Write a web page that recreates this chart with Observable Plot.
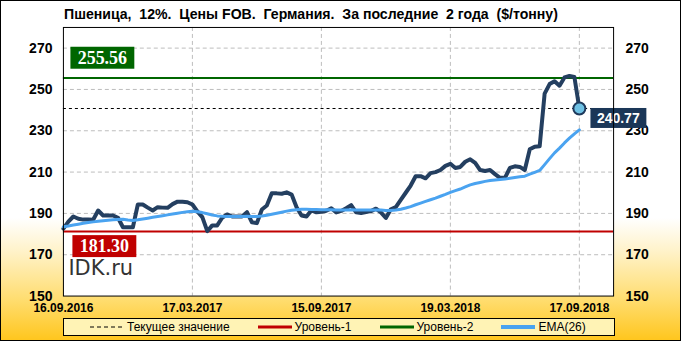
<!DOCTYPE html>
<html><head><meta charset="utf-8">
<script src="https://cdn.jsdelivr.net/npm/d3@7"></script>
<script src="https://cdn.jsdelivr.net/npm/@observablehq/plot@0.6"></script>
<style>
body{margin:0;}
#wrap{position:relative;width:681px;height:341px;box-sizing:border-box;border:1px solid #000;
 background:linear-gradient(to bottom,#fff 0%,#fff 64%,#FFF2C8 74%,#FFDD70 88%,#FFC61E 100%);
 font-family:"Liberation Sans",Arial,sans-serif;overflow:hidden;}
#title{position:absolute;left:63px;top:5px;font-weight:bold;font-size:14.1px;white-space:pre;color:#000;}
#chart{position:absolute;left:-1px;top:-1px;}
#legend{position:absolute;left:62px;top:317px;width:552px;height:18px;border:1px solid #000;background:#FFF3B5;
 box-sizing:border-box;display:flex;align-items:center;padding-left:26px;gap:28px;font-size:12px;}
.item{display:flex;align-items:center;gap:3px;}
</style></head>
<body>
<div id="wrap">
  <div id="title"></div>
  <div id="chart"></div>
  <div id="legend"></div>
</div>
<script>
const titleText = "Пшеница,  12%.  Цены FOB.  Германия.  За последние  2 года  ($/тонну)";
const dateLabels = ["16.09.2016","17.03.2017","15.09.2017","19.03.2018","17.09.2018"];
const dateTickIndex = [0,26,52,78,104];
const yTicks = [150,170,190,210,230,250,270];
const level1 = 181.30;
const level2 = 255.56;
const currentValue = 240.77;
const legendLabels = ["Текущее значение","Уровень-1","Уровень-2","EMA(26)"];
const legendColors = ["#000000","#C00000","#006600","#4AA3F0"];

// weekly prices ($/t)
const price = [
 182.6,186.0,188.5,187.4,187.0,187.0,186.9,191.4,189.0,189.0,
 189.0,187.9,183.3,183.3,183.3,194.3,194.3,192.8,191.4,193.0,
 192.8,192.7,194.5,195.7,195.6,195.4,194.3,191.0,188.2,181.4,
 184.2,184.2,187.9,189.5,188.5,188.5,188.5,190.6,185.7,185.3,
 191.9,193.8,199.8,199.7,199.5,200.2,199.1,193.0,189.0,188.5,
 191.5,190.5,190.8,191.3,192.5,190.5,191.2,192.5,194.0,190.5,
 190.2,190.7,191.1,192.3,190.5,187.8,192.0,193.0,196.5,200.0,
 203.5,208.0,208.0,207.0,209.5,210.0,211.0,213.0,214.0,212.0,
 212.5,215.0,216.2,214.5,211.0,210.5,211.0,209.0,207.2,207.2,
 212.0,212.8,212.5,211.0,221.0,222.3,222.5,248.0,252.6,254.0,
 251.8,255.8,256.5,256.0,240.77
];
// EMA(26)
const ema = [
 183.5,183.9,184.4,184.8,185.2,185.6,185.9,186.2,186.5,186.7,
 186.9,187.1,187.2,186.8,186.6,186.9,187.3,187.7,188.1,188.5,
 188.9,189.3,189.7,190.1,190.5,190.8,191.0,190.8,190.4,189.8,
 189.2,188.8,188.6,188.5,188.5,188.5,188.5,188.6,188.5,188.5,
 188.7,189.1,189.6,190.1,190.6,191.1,191.5,191.8,192.0,192.0,
 191.9,191.9,191.8,191.8,191.8,191.7,191.7,191.7,191.8,191.7,
 191.7,191.6,191.6,191.6,191.6,191.4,191.4,191.6,192.0,192.6,
 193.3,194.2,195.0,195.8,196.6,197.4,198.3,199.2,200.2,201.0,
 201.8,202.8,203.8,204.5,205.0,205.5,205.9,206.2,206.4,206.6,
 207.0,207.4,207.7,208.0,209.0,209.9,210.8,213.6,216.5,219.3,
 221.6,224.1,226.4,228.5,230.4
];

const data = price.map((v,i)=>({i, price:v, ema:ema[i]}));
const last = data[data.length-1];

document.getElementById("title").textContent = titleText;

const chart = Plot.plot({
  width:681, height:341,
  marginLeft:63, marginRight:67, marginTop:27, marginBottom:45,
  style:{background:"transparent", fontFamily:"Liberation Sans, Arial, sans-serif", overflow:"visible", color:"#000"},
  x:{domain:[0,110.9], label:null},
  y:{domain:[150,280], label:null},
  marks:[
    Plot.frame({fill:"white"}),
    Plot.ruleY(yTicks.slice(1), {stroke:"#bdbdbd", strokeDasharray:"4,3"}),
    Plot.ruleX(dateTickIndex.slice(1), {stroke:"#bdbdbd", strokeDasharray:"4,3"}),
    Plot.axisY(yTicks, {anchor:"left", tickSize:0, tickPadding:11, fontSize:14, fontWeight:"bold", label:null}),
    Plot.axisY(yTicks, {anchor:"right", tickSize:0, tickPadding:12, fontSize:14, fontWeight:"bold", label:null}),
    Plot.axisX(dateTickIndex, {anchor:"bottom", tickSize:0, tickPadding:7, fontSize:12, fontWeight:"bold", label:null,
      tickFormat:d=>dateLabels[dateTickIndex.indexOf(d)]}),
    Plot.ruleY([level1], {stroke:"#C00000", strokeWidth:2}),
    Plot.ruleY([level2], {stroke:"#006600", strokeWidth:2}),
    Plot.ruleY([currentValue], {stroke:"#000", strokeDasharray:"3,3", strokeWidth:1}),
    Plot.line(data, {x:"i", y:"price", stroke:"#243F60", strokeWidth:4, strokeLinejoin:"round"}),
    Plot.line(data, {x:"i", y:"ema", stroke:"#4AA3F0", strokeWidth:3}),
    Plot.dot([last], {x:"i", y:"price", r:6, fill:"#6EC1E4", stroke:"#1F3A5C", strokeWidth:2}),
    Plot.text([level2], {y:d=>d, frameAnchor:"left", textAnchor:"middle", dx:39, dy:-20, text:d=>d.toFixed(2), fill:"white",
      fontSize:18, fontWeight:"bold", fontFamily:"Liberation Serif, serif", className:"box-green"}),
    Plot.text([level1], {y:d=>d, frameAnchor:"left", textAnchor:"middle", dx:41, dy:15, text:d=>d.toFixed(2), fill:"white",
      fontSize:18, fontWeight:"bold", fontFamily:"Liberation Serif, serif", className:"box-red"}),
    Plot.text([last], {x:"i", y:"price", textAnchor:"middle", dx:39, dy:10, text:d=>d.price.toFixed(2), fill:"white",
      fontSize:14, fontWeight:"bold", className:"box-navy"}),
    Plot.text(["IDK.ru"], {frameAnchor:"bottom-left", dx:5, dy:-28, lineAnchor:"middle", textAnchor:"start",
      text:d=>d, fill:"#333", fontSize:21, fontFamily:"DejaVu Sans, sans-serif"}),
    Plot.frame({stroke:"#000"})
  ]
});
document.getElementById("chart").append(chart);

function boxify(cls, fill, w, h){
  chart.querySelectorAll(`g.${cls} text`).forEach(t=>{
    const b = t.getBBox();
    const cx = b.x + b.width/2, cy = b.y + b.height/2;
    const r = document.createElementNS("http://www.w3.org/2000/svg","rect");
    r.setAttribute("x", cx - w/2); r.setAttribute("y", cy - h/2);
    r.setAttribute("width", w); r.setAttribute("height", h);
    r.setAttribute("fill", fill);
    if (t.getAttribute("transform")) r.setAttribute("transform", t.getAttribute("transform"));
    t.parentNode.insertBefore(r, t);
  });
}
boxify("box-green","#006600",64,22);
boxify("box-red","#C00000",64,22);
boxify("box-navy","#1B3758",56,20);

// legend
const legend = document.getElementById("legend");
legendLabels.forEach((lab,k)=>{
  const it = document.createElement("div"); it.className="item";
  const s = document.createElementNS("http://www.w3.org/2000/svg","svg");
  s.setAttribute("width",34); s.setAttribute("height",6);
  const l = document.createElementNS("http://www.w3.org/2000/svg","line");
  l.setAttribute("x1",0); l.setAttribute("x2",34); l.setAttribute("y1",3); l.setAttribute("y2",3);
  l.setAttribute("stroke",legendColors[k]);
  l.setAttribute("stroke-width", k===0?1:(k===3?4:3));
  if(k===0) l.setAttribute("stroke-dasharray","4,3");
  s.append(l);
  const tx = document.createElement("span"); tx.textContent = lab;
  it.append(s, tx); legend.append(it);
});
</script>
</body></html>
